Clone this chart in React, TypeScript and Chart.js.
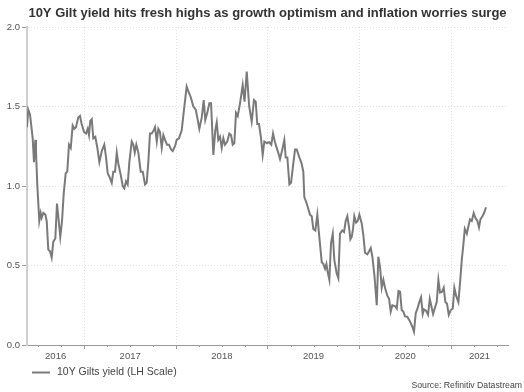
import React, { useEffect, useRef } from 'react';
import { Chart, registerables } from 'chart.js';

Chart.register(...registerables);

const chartTitle = '10Y Gilt yield hits fresh highs as growth optimism and inflation worries surge';
const seriesLabel = '10Y Gilts yield (LH Scale)';
const sourceText = 'Source: Refinitiv Datastream';

const yearLabels = ['2016', '2017', '2018', '2019', '2020', '2021'];
const yearLabelPositions = [2016.6875, 2017.5, 2018.5, 2019.5, 2020.5, 2021.31];
const yearBoundaries = [2017, 2018, 2019, 2020, 2021];
const yTickValues = [0, 0.5, 1.0, 1.5, 2.0];
const xMin = 2016.375;
const xMax = 2021.62;

// decimal-year dates of each observation
const dates = [
  2016.375, 2016.389, 2016.408, 2016.437, 2016.451, 2016.466, 2016.473, 2016.487, 2016.509, 2016.524,
  2016.535, 2016.553, 2016.575, 2016.590, 2016.607, 2016.626, 2016.644, 2016.662, 2016.684, 2016.702,
  2016.721, 2016.738, 2016.757, 2016.775, 2016.797, 2016.814, 2016.833, 2016.852, 2016.873, 2016.891,
  2016.909, 2016.934, 2016.953, 2016.971, 2016.997, 2017.018, 2017.037, 2017.051, 2017.065, 2017.081,
  2017.098, 2017.120, 2017.142, 2017.164, 2017.190, 2017.218, 2017.237, 2017.255, 2017.280, 2017.299,
  2017.316, 2017.335, 2017.354, 2017.371, 2017.397, 2017.419, 2017.436, 2017.455, 2017.473, 2017.491,
  2017.517, 2017.534, 2017.550, 2017.567, 2017.589, 2017.615, 2017.637, 2017.662, 2017.680, 2017.698,
  2017.716, 2017.735, 2017.757, 2017.771, 2017.790, 2017.807, 2017.825, 2017.844, 2017.862, 2017.880,
  2017.902, 2017.923, 2017.945, 2017.964, 2017.989, 2018.007, 2018.032, 2018.062, 2018.087, 2018.116,
  2018.138, 2018.160, 2018.189, 2018.215, 2018.232, 2018.254, 2018.280, 2018.302, 2018.319, 2018.341,
  2018.363, 2018.382, 2018.407, 2018.428, 2018.444, 2018.461, 2018.480, 2018.498, 2018.516, 2018.534,
  2018.559, 2018.581, 2018.600, 2018.618, 2018.636, 2018.654, 2018.673, 2018.698, 2018.727, 2018.747,
  2018.771, 2018.798, 2018.825, 2018.850, 2018.869, 2018.886, 2018.905, 2018.927, 2018.945, 2018.963,
  2018.989, 2019.017, 2019.039, 2019.058, 2019.077, 2019.098, 2019.120, 2019.134, 2019.159, 2019.181,
  2019.196, 2019.214, 2019.236, 2019.254, 2019.279, 2019.298, 2019.316, 2019.345, 2019.370, 2019.388,
  2019.399, 2019.425, 2019.461, 2019.480, 2019.497, 2019.519, 2019.541, 2019.559, 2019.589, 2019.606,
  2019.625, 2019.640, 2019.655, 2019.672, 2019.690, 2019.709, 2019.726, 2019.752, 2019.770, 2019.788,
  2019.813, 2019.832, 2019.850, 2019.868, 2019.887, 2019.901, 2019.916, 2019.930, 2019.944, 2019.963,
  2019.981, 2019.999, 2020.025, 2020.043, 2020.061, 2020.086, 2020.105, 2020.123, 2020.141, 2020.163,
  2020.189, 2020.206, 2020.225, 2020.243, 2020.261, 2020.279, 2020.304, 2020.323, 2020.341, 2020.359,
  2020.388, 2020.407, 2020.426, 2020.443, 2020.461, 2020.479, 2020.497, 2020.522, 2020.552, 2020.577,
  2020.595, 2020.614, 2020.636, 2020.653, 2020.672, 2020.690, 2020.704, 2020.726, 2020.748, 2020.767,
  2020.784, 2020.803, 2020.821, 2020.843, 2020.861, 2020.879, 2020.901, 2020.919, 2020.937, 2020.955,
  2020.974, 2020.996, 2021.018, 2021.035, 2021.054, 2021.079, 2021.097, 2021.116, 2021.133, 2021.149,
  2021.171, 2021.188, 2021.206, 2021.225, 2021.246, 2021.264, 2021.286, 2021.304, 2021.319, 2021.341,
  2021.359, 2021.380,
];

// 10Y gilt yield, %
const yields = [
  1.37, 1.48, 1.45, 1.30, 1.15, 1.29, 1.22, 1.01, 0.78, 0.83,
  0.80, 0.83, 0.82, 0.78, 0.60, 0.59, 0.55, 0.65, 0.67, 0.89,
  0.78, 0.68, 0.78, 0.95, 1.08, 1.09, 1.26, 1.24, 1.38, 1.36,
  1.37, 1.43, 1.44, 1.39, 1.34, 1.33, 1.36, 1.32, 1.41, 1.42,
  1.30, 1.31, 1.24, 1.15, 1.22, 1.26, 1.18, 1.08, 1.05, 1.02,
  1.09, 1.09, 1.21, 1.14, 1.07, 1.00, 0.985, 1.03, 1.01, 1.15,
  1.28, 1.26, 1.21, 1.26, 1.21, 1.09, 1.09, 1.01, 1.02, 1.15,
  1.33, 1.33, 1.35, 1.37, 1.28, 1.36, 1.34, 1.24, 1.32, 1.29,
  1.26, 1.26, 1.23, 1.22, 1.25, 1.29, 1.30, 1.35, 1.48, 1.625,
  1.59, 1.56, 1.50, 1.48, 1.43, 1.36, 1.43, 1.54, 1.415, 1.46,
  1.52, 1.52, 1.195, 1.35, 1.40, 1.29, 1.31, 1.24, 1.30, 1.26,
  1.28, 1.33, 1.32, 1.26, 1.27, 1.46, 1.44, 1.52, 1.635, 1.53,
  1.72, 1.50, 1.405, 1.54, 1.53, 1.39, 1.39, 1.30, 1.195, 1.28,
  1.27, 1.275, 1.26, 1.33, 1.28, 1.24, 1.20, 1.17, 1.23, 1.29,
  1.18, 1.18, 1.01, 1.02, 1.14, 1.23, 1.23, 1.18, 1.14, 1.09,
  0.93, 0.89, 0.82, 0.81, 0.73, 0.72, 0.82, 0.70, 0.52, 0.51,
  0.48, 0.51, 0.455, 0.41, 0.64, 0.70, 0.535, 0.45, 0.42, 0.70,
  0.72, 0.71, 0.78, 0.81, 0.74, 0.665, 0.68, 0.73, 0.81, 0.77,
  0.78, 0.82, 0.765, 0.69, 0.58, 0.57, 0.59, 0.61, 0.555, 0.44,
  0.25, 0.555, 0.49, 0.36, 0.41, 0.36, 0.31, 0.29, 0.21, 0.25,
  0.245, 0.23, 0.34, 0.335, 0.22, 0.21, 0.18, 0.178, 0.147, 0.115,
  0.084, 0.20, 0.235, 0.27, 0.30, 0.195, 0.224, 0.216, 0.19, 0.29,
  0.245, 0.195, 0.23, 0.27, 0.41, 0.33, 0.335, 0.36, 0.27, 0.26,
  0.19, 0.22, 0.23, 0.36, 0.31, 0.27, 0.39, 0.535, 0.63, 0.73,
  0.70, 0.745, 0.79, 0.78, 0.83, 0.80, 0.78, 0.74, 0.79, 0.81,
  0.83, 0.866,
];

const LINE_COLOR = '#7a7a7a';
const FONT = '"Liberation Sans", Arial, Helvetica, sans-serif';

export default function App() {
  const canvasRef = useRef<HTMLCanvasElement | null>(null);

  useEffect(() => {
    const canvas = canvasRef.current;
    if (!canvas) return;

    const points = dates.map((d, i) => ({ x: d, y: yields[i] }));

    const decor = {
      id: 'decor',
      afterDraw(chart: any) {
        const ctx = chart.ctx as CanvasRenderingContext2D;
        const xs = chart.scales.x;
        const area = chart.chartArea;
        ctx.save();
        // title
        ctx.font = `bold 13px ${FONT}`;
        ctx.fillStyle = '#333333';
        ctx.textAlign = 'center';
        ctx.textBaseline = 'alphabetic';
        ctx.fillText(chartTitle, (area.left + area.right) / 2, 17);

        // minor quarterly ticks
        ctx.strokeStyle = '#a0a0a0';
        ctx.lineWidth = 1;
        for (let y = 2016; y <= 2021; y++) {
          for (const q of [0.25, 0.5, 0.75]) {
            const v = y + q;
            if (v <= xMin || v >= xMax) continue;
            const px = Math.round(xs.getPixelForValue(v)) + 0.5;
            ctx.beginPath();
            ctx.moveTo(px, area.bottom);
            ctx.lineTo(px, area.bottom + 2);
            ctx.stroke();
          }
        }

        // legend
        ctx.strokeStyle = LINE_COLOR;
        ctx.lineWidth = 2;
        ctx.beginPath();
        ctx.moveTo(32, 372.5);
        ctx.lineTo(50, 372.5);
        ctx.stroke();
        ctx.font = `10.5px ${FONT}`;
        ctx.fillStyle = '#444444';
        ctx.textAlign = 'left';
        ctx.textBaseline = 'middle';
        ctx.fillText(seriesLabel, 57, 372.5);

        // source
        ctx.font = `8.7px ${FONT}`;
        ctx.textAlign = 'right';
        ctx.textBaseline = 'alphabetic';
        ctx.fillText(sourceText, 522, 387.5);
        ctx.restore();
      },
    };

    const chart = new Chart(canvas, {
      type: 'line',
      data: {
        datasets: [
          {
            label: seriesLabel,
            data: points,
            borderColor: LINE_COLOR,
            borderWidth: 2,
            pointRadius: 0,
            tension: 0,
            fill: false,
          },
        ],
      },
      options: {
        animation: false,
        responsive: false,
        devicePixelRatio: 1,
        events: [],
        layout: { padding: { top: 27, right: 16, left: 0, bottom: 0 } },
        plugins: {
          legend: { display: false },
          title: { display: false },
          tooltip: { enabled: false },
        },
        scales: {
          x: {
            type: 'linear',
            min: xMin,
            max: xMax,
            afterBuildTicks: (scale: any) => {
              const vals = [...yearBoundaries, ...yearLabelPositions].sort((a, b) => a - b);
              scale.ticks = vals.map((v) => ({ value: v }));
            },
            afterFit: (scale: any) => {
              scale.height = 47;
            },
            ticks: {
              autoSkip: false,
              maxRotation: 0,
              minRotation: 0,
              padding: 2,
              color: '#555555',
              font: { family: FONT, size: 9.5 },
              callback: (value: any) => {
                const i = yearLabelPositions.findIndex((p) => Math.abs(p - Number(value)) < 1e-6);
                return i >= 0 ? yearLabels[i] : '';
              },
            },
            grid: {
              drawOnChartArea: true,
              tickLength: 4,
              lineWidth: 1,
              color: (c: any) =>
                c.tick && yearBoundaries.includes(c.tick.value) ? '#e2e2e2' : 'rgba(0,0,0,0)',
              tickColor: (c: any) =>
                c.tick && yearBoundaries.includes(c.tick.value) ? '#9a9a9a' : 'rgba(0,0,0,0)',
              tickBorderDash: [],
            },
            border: { display: true, color: '#9a9a9a', width: 1, dash: [1, 2] },
          },
          y: {
            min: 0,
            max: 2,
            afterBuildTicks: (scale: any) => {
              scale.ticks = yTickValues.map((v) => ({ value: v }));
            },
            afterFit: (scale: any) => {
              scale.width = 27;
            },
            ticks: {
              padding: 2,
              color: '#555555',
              font: { family: FONT, size: 9.5 },
              callback: (value: any) => Number(value).toFixed(1),
            },
            grid: {
              tickLength: 5,
              lineWidth: 1,
              color: '#e2e2e2',
              tickColor: '#9a9a9a',
              tickBorderDash: [],
            },
            border: { display: true, color: '#cfcfcf', width: 2, dash: [1, 2] },
          },
        },
      } as any,
      plugins: [decor],
    });

    return () => {
      chart.destroy();
    };
  }, []);

  return (
    <div style={{ position: 'absolute', left: 0, top: 0, width: 524, height: 392, background: '#ffffff' }}>
      <canvas ref={canvasRef} width={524} height={392} style={{ width: 524, height: 392, display: 'block' }} />
    </div>
  );
}
